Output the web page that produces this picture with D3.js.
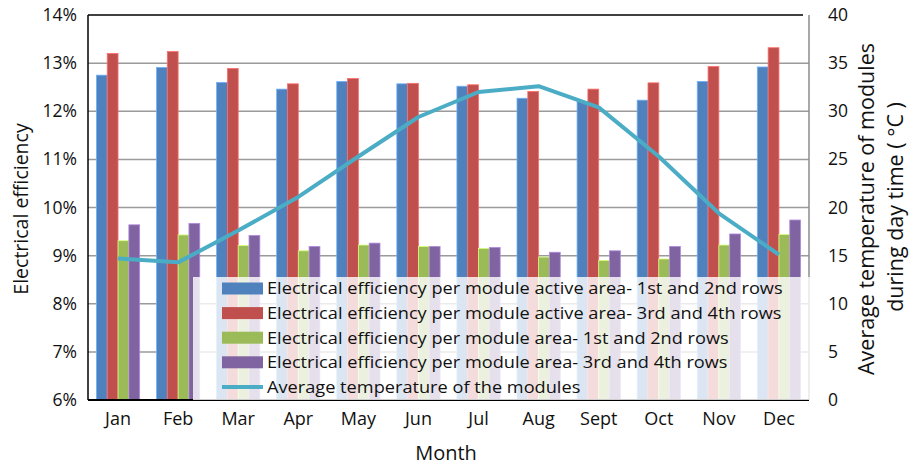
<!DOCTYPE html>
<html>
<head>
<meta charset="utf-8">
<script src="https://cdn.jsdelivr.net/npm/d3@7.9.0/dist/d3.min.js"></script>
<style>
  body { margin: 0; background: #fff; }
  svg { font-family: "Open Sans", Lato, sans-serif; }
</style>
</head>
<body>
<svg id="chart" width="914" height="467"></svg>
<script>
// data
const months = ['Jan', 'Feb', 'Mar', 'Apr', 'May', 'Jun', 'Jul', 'Aug', 'Sept', 'Oct', 'Nov', 'Dec'];
const seriesNames = [
    'Electrical efficiency per module active area- 1st and 2nd rows',
    'Electrical efficiency per module active area- 3rd and 4th rows',
    'Electrical efficiency per module area- 1st and 2nd rows',
    'Electrical efficiency per module area- 3rd and 4th rows'
];
const lineName = 'Average temperature of the modules';
const activeRows12 = [12.75, 12.91, 12.60, 12.46, 12.62, 12.57, 12.52, 12.27, 12.20, 12.23, 12.62, 12.92];
const activeRows34 = [13.20, 13.24, 12.89, 12.57, 12.68, 12.58, 12.55, 12.41, 12.46, 12.59, 12.93, 13.32];
const areaRows12 = [9.31, 9.43, 9.21, 9.10, 9.22, 9.19, 9.15, 8.97, 8.90, 8.93, 9.22, 9.44];
const areaRows34 = [9.64, 9.67, 9.42, 9.19, 9.26, 9.19, 9.17, 9.07, 9.10, 9.19, 9.45, 9.74];
const avgTemp = [14.7, 14.3, 17.6, 21.1, 25.3, 29.4, 32.0, 32.6, 30.4, 25.3, 19.4, 15.1];
const leftTicks = [6, 7, 8, 9, 10, 11, 12, 13, 14];
const rightTicks = [0, 5, 10, 15, 20, 25, 30, 35, 40];

const colors = ['#4f81bd', '#c0504d', '#9bbb59', '#8064a2'];
const lineColor = '#4bacc6';
const barSeries = [activeRows12, activeRows34, areaRows12, areaRows34];

const svg = d3.select('#chart');
const margin = { top: 15, right: 105, bottom: 67, left: 88 };
const W = 914, H = 467;

let x = d3.scaleBand().domain(months)
    .range([margin.left, W - margin.right])
    .paddingInner(0.28).paddingOuter(0.14);
let xSub = d3.scaleBand().domain(d3.range(4)).range([0, x.bandwidth()]);
let yLeft = d3.scaleLinear().domain([6, 14]).range([H - margin.bottom, margin.top]);
let yRight = d3.scaleLinear().domain([0, 40]).range([H - margin.bottom, margin.top]);

const x0 = margin.left, x1 = W - margin.right;
const yTop = margin.top, yBot = H - margin.bottom;

// gridlines
svg.append('g').selectAll('line').data(leftTicks.slice(1, -1)).join('line')
    .attr('x1', x0).attr('x2', x1)
    .attr('y1', d => yLeft(d)).attr('y2', d => yLeft(d))
    .attr('stroke', '#9a9a9a').attr('stroke-width', 1.5);

// bars
barSeries.forEach((vals, si) => {
    svg.append('g').selectAll('rect').data(vals).join('rect')
        .attr('x', (d, i) => x(months[i]) + xSub(si))
        .attr('width', xSub.bandwidth())
        .attr('y', d => yLeft(d))
        .attr('height', d => yLeft(6) - yLeft(d))
        .attr('fill', colors[si])
        .attr('stroke', d3.color(colors[si]).brighter(0.9))
        .attr('stroke-width', 0.8);
});

// temperature line
let line = d3.line()
    .x((d, i) => x(months[i]) + x.bandwidth() / 2)
    .y(d => yRight(d));
svg.append('path').datum(avgTemp)
    .attr('d', line)
    .attr('fill', 'none')
    .attr('stroke', lineColor)
    .attr('stroke-width', 4)
    .attr('stroke-linejoin', 'round');

// frame
svg.append('line').attr('x1', x1).attr('x2', x1).attr('y1', yTop).attr('y2', yBot)
    .attr('stroke', '#8c8c8c').attr('stroke-width', 1.5);
svg.append('line').attr('x1', x0).attr('x2', x1 - 6).attr('y1', yTop).attr('y2', yTop)
    .attr('stroke', '#000').attr('stroke-width', 1.5);
svg.append('line').attr('x1', x0).attr('x2', x0).attr('y1', yTop).attr('y2', yBot)
    .attr('stroke', '#000').attr('stroke-width', 1.5);
svg.append('line').attr('x1', x0).attr('x2', x1).attr('y1', yBot).attr('y2', yBot)
    .attr('stroke', '#000').attr('stroke-width', 2);

// axes (labels only)
let leftAxis = d3.axisLeft(yLeft).tickValues(leftTicks).tickSize(0).tickPadding(11)
    .tickFormat(d => d + '%');
svg.append('g').attr('transform', `translate(${x0},0)`).call(leftAxis)
    .call(g => g.select('.domain').remove())
    .selectAll('text').attr('font-size', 17.5).attr('fill', '#111').attr('font-family', '"Open Sans"');

let rightAxis = d3.axisRight(yRight).tickValues(rightTicks).tickSize(0).tickPadding(19);
svg.append('g').attr('transform', `translate(${x1},0)`).call(rightAxis)
    .call(g => g.select('.domain').remove())
    .selectAll('text').attr('font-size', 17.5).attr('fill', '#111').attr('font-family', '"Open Sans"');

let bottomAxis = d3.axisBottom(x).tickSize(0).tickPadding(12);
svg.append('g').attr('transform', `translate(0,${yBot})`).call(bottomAxis)
    .call(g => g.select('.domain').remove())
    .selectAll('text').attr('font-size', 18).attr('fill', '#111').attr('font-family', '"Open Sans"');

// titles
svg.append('text').attr('x', 446).attr('y', 460).attr('text-anchor', 'middle')
    .attr('font-size', 20).attr('fill', '#111').text('Month');
svg.append('text').attr('transform', 'translate(28,209) rotate(-90)')
    .attr('text-anchor', 'middle').attr('font-size', 19.5).attr('fill', '#111')
    .text('Electrical efficiency');
svg.append('text').attr('transform', 'translate(874,209) rotate(-90)')
    .attr('text-anchor', 'middle').attr('font-size', 21.5).attr('fill', '#111')
    .text('Average temperature of modules');
svg.append('text').attr('transform', 'translate(903,207) rotate(-90)')
    .attr('text-anchor', 'middle').attr('font-size', 21.5).attr('fill', '#111')
    .text('during day time ( °C )');

// legend, a translucent box over the lower part of the plot
let legend = svg.append('g');
legend.append('rect')
    .attr('x', 193).attr('y', 277).attr('width', 618).attr('height', yBot - 277)
    .attr('fill', '#fff').attr('fill-opacity', 0.8);
let items = seriesNames.map((n, i) => ({ name: n, color: colors[i], type: 'bar' }))
    .concat([{ name: lineName, color: lineColor, type: 'line' }]);
items.forEach((d, i) => {
    let cy = 288.5 + i * 24.6;
    if (d.type === 'bar') {
        legend.append('rect').attr('x', 222).attr('y', cy - 6).attr('width', 41).attr('height', 12)
            .attr('fill', d.color);
    } else {
        legend.append('line').attr('x1', 222).attr('x2', 263).attr('y1', cy).attr('y2', cy)
            .attr('stroke', d.color).attr('stroke-width', 4);
    }
    // the source text is a little wider than the font, stretch it sideways
    legend.append('text').attr('transform', `translate(267,${cy}) scale(1.07,1)`)
        .attr('dy', '0.35em')
        .attr('font-size', 17).attr('fill', '#111').text(d.name);
});
</script>
</body>
</html>
